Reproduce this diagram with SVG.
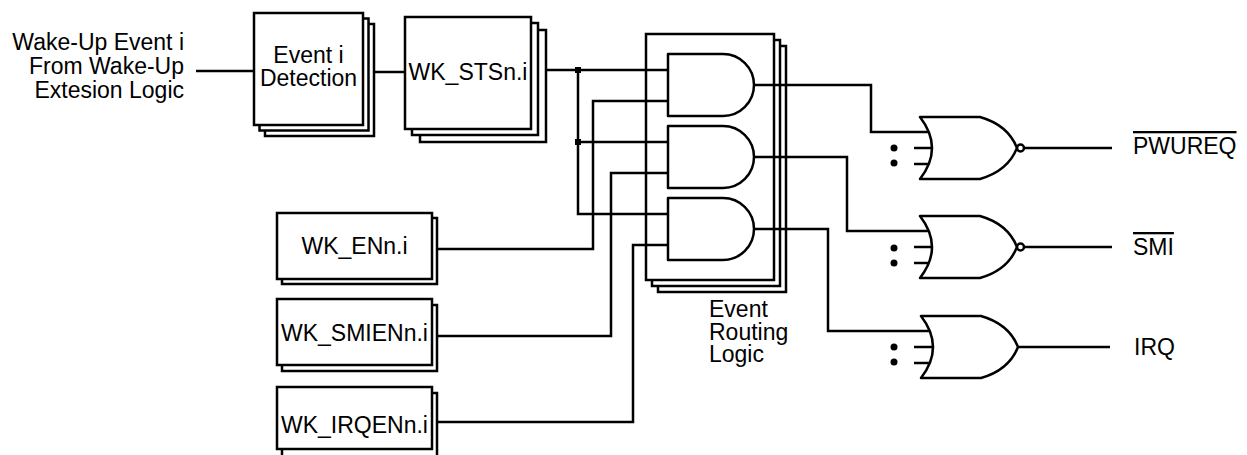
<svg xmlns="http://www.w3.org/2000/svg" width="1247" height="455" viewBox="0 0 1247 455">
<style>
.box{fill:#fff;stroke:#000;stroke-width:2.5}
.gate{fill:#fff;stroke:#000;stroke-width:2.5;stroke-linejoin:round}
.wire{fill:none;stroke:#000;stroke-width:2.5}
text{font-family:"Liberation Sans",Arial,sans-serif;font-size:23px;fill:#000}
.mid{text-anchor:middle}
.end{text-anchor:end}
.over{text-decoration:overline}
</style>
<rect width="1247" height="455" fill="#fff"/>
<g id="input-label">
<text class="end" x="184" y="50">Wake-Up Event i</text>
<text class="end" x="184" y="74">From Wake-Up</text>
<text class="end" x="184" y="98">Extesion Logic</text>
</g>
<g id="connectors">
<path class="wire" d="M196,71 H254"/>
<path class="wire" d="M374,72 H405"/>
<path class="wire" d="M546,70 H668"/>
<path class="wire" d="M578,70 V214 H668"/>
<path class="wire" d="M578,142 H668"/>
<path class="wire" d="M437,249 H593 V101 H668"/>
<path class="wire" d="M437,336 H611 V173 H668"/>
<path class="wire" d="M437,422 H633 V245 H668"/>
<rect x="575" y="67" width="6" height="6" fill="#000"/>
<rect x="575" y="139" width="6" height="6" fill="#000"/>
</g>
<g id="event-detection">
<rect class="box" x="265" y="24" width="109" height="112"/>
<rect class="box" x="259.5" y="18.5" width="109" height="112"/>
<rect class="box" x="254" y="13" width="109" height="112"/>
<text class="mid" x="308.5" y="63">Event i</text>
<text class="mid" x="308.5" y="86">Detection</text>
</g>
<g id="wk-sts">
<rect class="box" x="420" y="30" width="126" height="112"/>
<rect class="box" x="412" y="23" width="126" height="112"/>
<rect class="box" x="405" y="17" width="126" height="112"/>
<text class="mid" x="468" y="80">WK_STSn.i</text>
</g>
<g id="wk-en">
<rect class="box" x="282" y="218" width="155" height="66"/>
<rect class="box" x="277" y="213" width="155" height="66"/>
<text class="mid" x="354.5" y="254">WK_ENn.i</text>
</g>
<g id="wk-smien">
<rect class="box" x="282" y="305" width="155" height="66"/>
<rect class="box" x="277" y="299" width="155" height="66"/>
<text class="mid" x="354.5" y="341">WK_SMIENn.i</text>
</g>
<g id="wk-irqen">
<rect class="box" x="282" y="393" width="155" height="66"/>
<rect class="box" x="277" y="387" width="155" height="62"/>
<text class="mid" x="354.5" y="433">WK_IRQENn.i</text>
</g>
<g id="event-routing">
<rect class="box" x="658" y="46" width="128" height="246"/>
<rect class="box" x="652" y="40" width="128" height="246"/>
<rect class="box" x="646" y="34" width="128" height="246"/>
<path class="wire" d="M646,70 H668 M646,101 H668 M646,142 H668 M646,173 H668 M646,214 H668 M646,245 H668"/>
<path class="wire" d="M754,85 H871 V132 H932"/>
<path class="wire" d="M754,157 H847 V231 H932"/>
<path class="wire" d="M754,229 H828 V331 H932"/>
<path class="gate" d="M668,54 H723 A31,31 0 0 1 723,116 H668 Z"/>
<path class="gate" d="M668,126 H723 A31,31 0 0 1 723,188 H668 Z"/>
<path class="gate" d="M668,198 H723 A31,31 0 0 1 723,260 H668 Z"/>
<text x="709" y="317">Event</text>
<text x="709" y="340">Routing</text>
<text x="709" y="362">Logic</text>
</g>
<g id="or-pwureq">
<path class="wire" d="M914,148 H932 M914,164 H932 M1024,148 H1112"/>
<path class="gate" d="M920,117 H980 Q1008,125 1017,148 Q1008,171 980,179 H920 Q944,148 920,117 Z"/>
<circle class="gate" cx="1020.5" cy="148" r="3.5"/>
<circle cx="894" cy="148" r="3.5"/>
<circle cx="894" cy="163" r="3.5"/>
<text class="over" x="1133" y="154">PWUREQ</text>
</g>
<g id="or-smi">
<path class="wire" d="M914,247 H932 M914,263 H932 M1024,247 H1112"/>
<path class="gate" d="M920,216 H980 Q1008,224 1017,247 Q1008,270 980,278 H920 Q944,247 920,216 Z"/>
<circle class="gate" cx="1020.5" cy="247" r="3.5"/>
<circle cx="894" cy="248" r="3.5"/>
<circle cx="894" cy="263" r="3.5"/>
<text class="over" x="1133" y="255">SMI</text>
</g>
<g id="or-irq">
<path class="wire" d="M914,347 H932 M914,363 H932 M1017,347 H1110"/>
<path class="gate" d="M921,316 H981 Q1009,324 1018,347 Q1009,370 981,378 H921 Q945,347 921,316 Z"/>
<circle cx="894" cy="347" r="3.5"/>
<circle cx="894" cy="362" r="3.5"/>
<text x="1134" y="355">IRQ</text>
</g>
</svg>
